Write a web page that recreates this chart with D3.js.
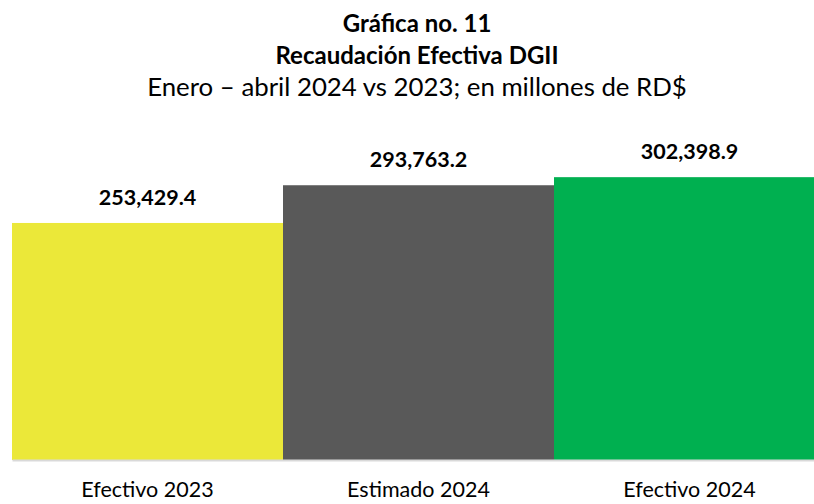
<!DOCTYPE html>
<html>
<head>
<meta charset="utf-8">
<script src="https://cdn.jsdelivr.net/npm/d3@7"></script>
<style>
  body { margin: 0; background: #fff; }
  svg { font-family: Lato, "Open Sans", sans-serif; display: block; }
</style>
</head>
<body>
<svg id="graph"></svg>
<script>
var categories = ["Efectivo 2023", "Estimado 2024", "Efectivo 2024"];
var values = [253429.4, 293763.2, 302398.9];
var labels = ["253,429.4", "293,763.2", "302,398.9"];
var colors = ["#EBE839", "#595959", "#00B050"];

var screen = {width: 814, height: 504};

var svg = d3.select("#graph")
    .attr("width", screen.width)
    .attr("height", screen.height);

var xScale = d3.scaleBand()
    .domain(categories)
    .range([12, 825])
    .padding(0);

var yScale = d3.scaleLinear()
    .domain([0, 320000])
    .range([460, 160.7]);

// titles
svg.append("text").attr("x", 417).attr("y", 32)
    .attr("text-anchor", "middle").attr("font-size", 24).attr("font-weight", "bold")
    .text("Gráfica no. 11");
svg.append("text").attr("x", 417).attr("y", 64)
    .attr("text-anchor", "middle").attr("font-size", 24).attr("font-weight", "bold")
    .text("Recaudación Efectiva DGII");
svg.append("text").attr("x", 417).attr("y", 96)
    .attr("text-anchor", "middle").attr("font-size", 25.8)
    .text("Enero – abril 2024 vs 2023; en millones de RD$");

// bars
svg.selectAll("rect.bar")
    .data(values)
    .enter()
    .append("rect")
    .attr("class", "bar")
    .attr("x", function(d, i) { return xScale(categories[i]); })
    .attr("y", function(d) { return yScale(d); })
    .attr("width", xScale.bandwidth())
    .attr("height", function(d) { return yScale(0) - yScale(d); })
    .attr("fill", function(d, i) { return colors[i]; });

// axis line
var xAxis = d3.axisBottom(xScale).tickSize(0).tickPadding(22);
var ax = svg.append("g")
    .attr("transform", "translate(0," + yScale(0) + ")")
    .call(xAxis);
ax.select(".domain").attr("stroke", "#D9D9D9").attr("stroke-width", 2);
ax.selectAll("text")
    .attr("font-size", 21.5)
    .attr("font-family", "Lato, 'Open Sans', sans-serif")
    .attr("fill", "#000");

// value labels
svg.selectAll("text.val")
    .data(values)
    .enter()
    .append("text")
    .attr("class", "val")
    .attr("x", function(d, i) { return xScale(categories[i]) + xScale.bandwidth() / 2; })
    .attr("y", function(d) { return yScale(d) - 18; })
    .attr("text-anchor", "middle")
    .attr("font-size", 21.5)
    .attr("font-weight", "bold")
    .text(function(d, i) { return labels[i]; });
</script>
</body>
</html>
